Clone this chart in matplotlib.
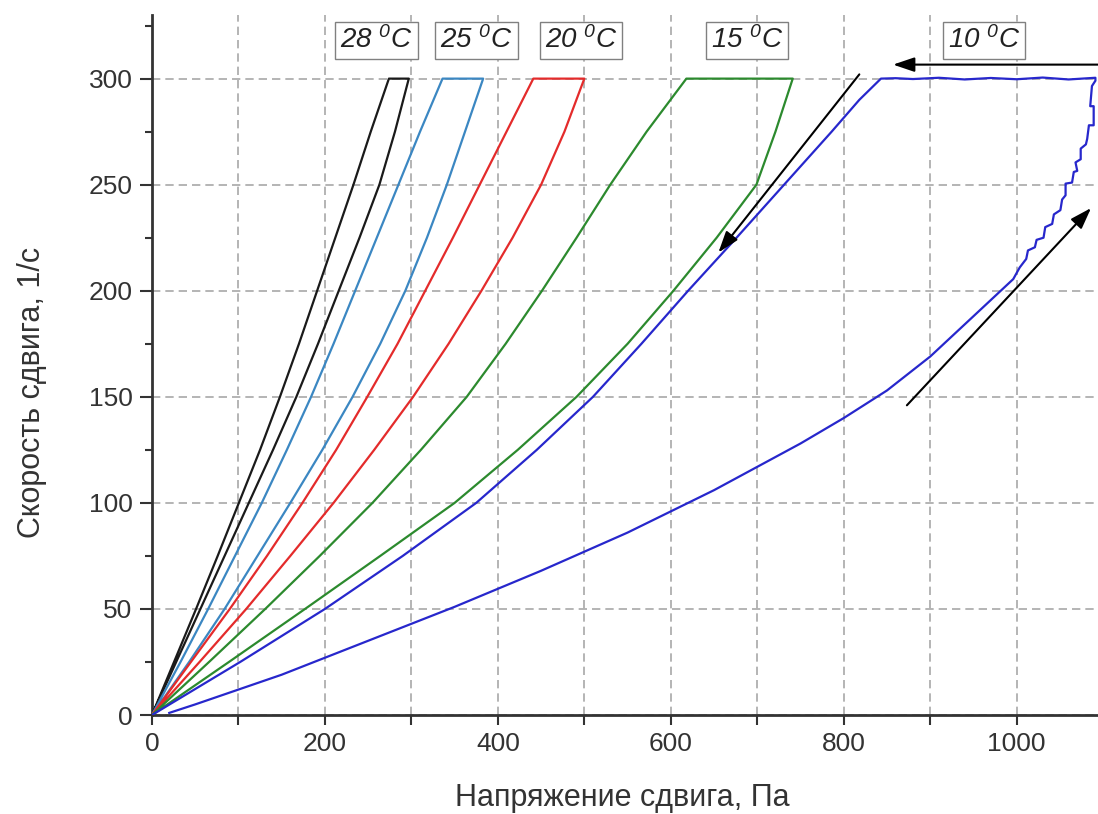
import matplotlib
matplotlib.use('Agg')
from matplotlib import pyplot as plt
from matplotlib.ticker import MultipleLocator, FuncFormatter

plt.rcParams['font.family'] = ['Liberation Sans', 'DejaVu Sans']
plt.rcParams['mathtext.fontset'] = 'custom'
plt.rcParams['mathtext.rm'] = 'Liberation Sans:italic'
plt.rcParams['mathtext.it'] = 'Liberation Sans:italic'

rate = [0, 25, 50, 75, 100, 125, 150, 175, 200, 225, 250, 275, 300]

# 28 C
up28 = [0, 28, 56, 84, 112, 140, 167, 192, 216, 240, 263, 281, 297]
down28 = [0, 25.5, 51, 76, 100.5, 125, 148, 170, 191, 212, 233, 253, 274]
# 25 C
up25 = [0, 43, 84, 122, 160, 197, 232, 264, 293, 318, 341, 362, 383]
down25 = [0, 33, 65, 96, 127, 156, 184, 210, 235, 260, 285, 310, 336]
# 20 C
up20 = [0, 55, 109, 160, 210, 257, 302, 343, 381, 417, 450, 477, 500]
down20 = [0, 45, 90, 133, 174, 213, 249, 284, 316, 348, 379, 410, 441]
# 15 C
up15 = [0, 89, 177, 264, 350, 423, 491, 550, 603, 653, 699, 721, 741]
down15 = [0, 66, 131, 194, 255, 311, 364, 409, 451, 491, 530, 572, 618]

# 10 C - up branch (stress, rate), with the stepped part near the top
up10_x = [20, 50, 100, 150, 200, 250, 300, 350, 400, 450, 500, 550, 600,
          650, 700, 750, 800, 850, 900, 950, 996,
          1003.5, 1011, 1013, 1021, 1023, 1031, 1033, 1041, 1043, 1050.5,
          1052.5, 1056.5, 1056.5, 1064, 1066, 1070, 1068, 1074, 1074, 1080,
          1081.5, 1083.5, 1089, 1089, 1085, 1087, 1091]
up10_y = [1, 5, 12, 19, 27, 35, 43, 51, 59.5, 68, 77, 86, 96,
          106, 117, 128, 140, 153, 169, 188, 205.5,
          211, 215, 219, 220.5, 224, 225, 230, 231.5, 236, 238,
          243, 245, 250.5, 251, 256, 256.5, 260.5, 262, 267, 269,
          271.6, 278, 278, 287, 287, 296.5, 299]
# 10 C - plateau at 300 1/s (slightly noisy)
top10_x = [1091, 1060, 1030, 1000, 970, 940, 910, 880, 860, 843]
top10_y = [300.4, 299.6, 300.5, 299.7, 300.3, 299.6, 300.4, 299.8, 300.2, 300]
# 10 C - down branch
down10_x = [843, 818, 786, 731, 676, 620, 566, 510, 445, 375, 290, 200, 102, 0]
down10_y = [300, 290, 275, 250, 225, 200, 175, 150, 125, 100, 75, 50, 25, 0]

labels = ['28', '25', '20', '15', '10']
label_x = [259.5, 375, 496, 688, 962]
label_y = 318

fig, ax = plt.subplots(figsize=(10.98, 8.14), dpi=100)
fig.subplots_adjust(left=0.1384, right=1.0, bottom=0.1216, top=0.9816)

loops = [(up28, down28, '#1a1a1a'),
         (up25, down25, '#3b87c2'),
         (up20, down20, '#e42b2b'),
         (up15, down15, '#2c8a2e')]
for up, down, col in loops:
    xs = up + down[::-1]
    ys = rate + rate[::-1]
    ax.plot(xs, ys, color=col, lw=1.6, zorder=3)

ax.plot(up10_x + top10_x + down10_x, up10_y + top10_y + down10_y,
        color='#2727cc', lw=1.6, zorder=3)

# arrows showing direction of the loop
arr = dict(arrowstyle='-|>,head_length=0.65,head_width=0.22', color='black',
           lw=1.5, mutation_scale=20, shrinkA=0, shrinkB=0)
ax.annotate('', xy=(1086, 239), xytext=(873, 146), arrowprops=arr, zorder=4)
ax.annotate('', xy=(655, 218), xytext=(818, 302), arrowprops=arr, zorder=4)
ax.annotate('', xy=(857, 306.6), xytext=(1130, 306.6), arrowprops=arr,
            annotation_clip=False, zorder=4)

for lab, lx in zip(labels, label_x):
    ax.text(lx, label_y, r'$%s\ ^{0}C$' % lab, fontsize=20, color='#222222',
            ha='center', va='center', zorder=5,
            bbox=dict(boxstyle='square,pad=0.18', fc='white', ec='#808080', lw=1))

ax.set_xlim(0, 1094)
ax.set_ylim(0, 330)

ax.xaxis.set_major_locator(MultipleLocator(100))
ax.xaxis.set_major_formatter(FuncFormatter(lambda v, p: '%d' % v if round(v) % 200 == 0 else ''))
ax.yaxis.set_major_locator(MultipleLocator(50))
ax.yaxis.set_minor_locator(MultipleLocator(25))

ax.grid(True, which='major', color='#a8a8a8', linestyle=(0, (5, 3)), lw=1.2)
ax.set_axisbelow(True)

for s in ['top', 'right']:
    ax.spines[s].set_visible(False)
for s in ['left', 'bottom']:
    ax.spines[s].set_color('#333333')
    ax.spines[s].set_linewidth(2)

ax.tick_params(axis='x', which='major', direction='out', length=7, width=1.5,
               colors='#333333', labelsize=19, pad=5)
ax.tick_params(axis='y', which='major', direction='out', length=9, width=1.5,
               colors='#333333', labelsize=19, pad=5)
ax.tick_params(axis='y', which='minor', direction='out', length=5, width=1.5,
               colors='#333333')

ax.set_xlabel('Напряжение сдвига, Па', fontsize=22, color='#333333')
ax.set_ylabel('Скорость сдвига, 1/с', fontsize=22, color='#333333')
ax.xaxis.set_label_coords(0.497, -0.097)
ax.yaxis.set_label_coords(-0.111, 0.461)

plt.savefig('out.png', dpi=100)
